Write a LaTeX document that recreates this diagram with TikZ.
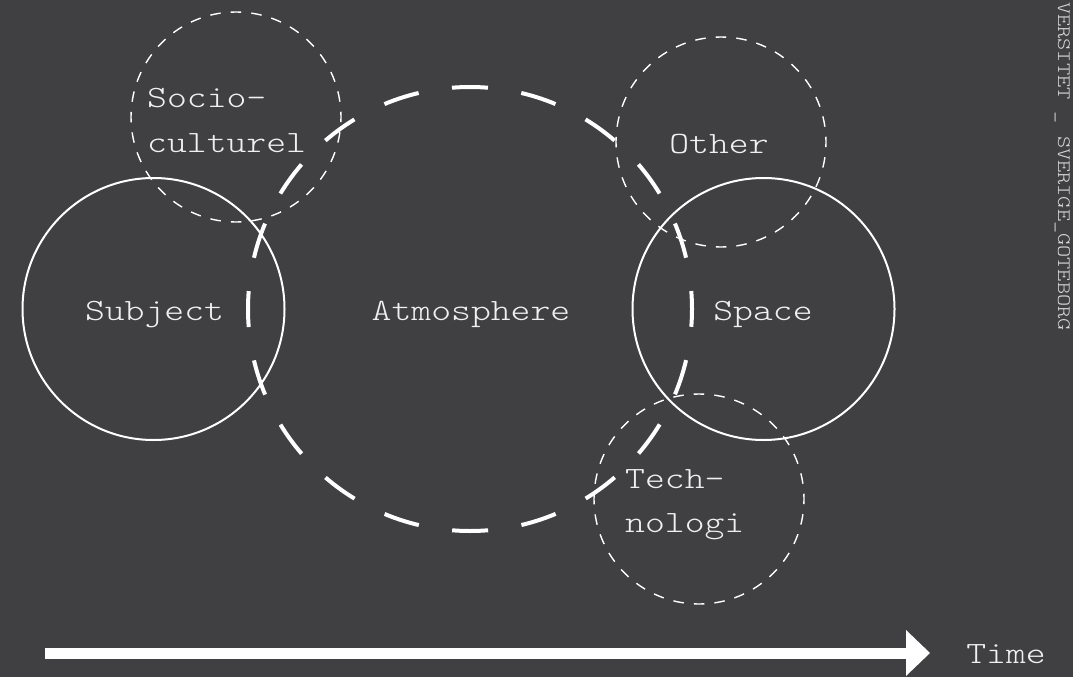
\documentclass[tikz,border=0pt]{standalone}
\usepackage{fontspec}
\newfontfamily\lbfont{Latin Modern Mono Light}[FakeStretch=1.22]
\definecolor{bg}{RGB}{64,64,66}
\definecolor{ink}{RGB}{240,240,240}
\definecolor{faint}{RGB}{215,215,215}
\begin{document}
\begin{tikzpicture}[x=1pt,y=-1pt,
  solidring/.style={circle, draw=white, line width=2pt, inner sep=0pt, minimum size=262pt},
  thinring/.style={circle, draw=white, line width=1.4pt, inner sep=0pt, minimum size=210pt,
    dash pattern=on 10.5pt off 10.12pt, dash phase=5.25pt},
  atmring/.style={circle, draw=white, line width=4pt, inner sep=0pt, minimum size=444pt,
    dash pattern=on 36pt off 33.76pt, dash phase=18pt},
  lbl/.style={text=ink, font=\lbfont\fontsize{31}{45}\selectfont, inner sep=0pt},
  timeline/.style={draw=white, line width=11pt},
]
\fill[bg] (0,0) rectangle (1073,677);
\useasboundingbox (0,0) rectangle (1073,677);

% rings
\node[atmring] (atm) at (470,309) {};
\node[solidring] (subj) at (153.5,309) {};
\node[solidring] (space) at (763.5,309) {};
\node[thinring] (socio) at (236,117) {};
\node[thinring] (other) at (721,142) {};
\node[thinring] (tech) at (699,499) {};

% labels
\node[lbl, anchor=base] (subjlbl) at (154.5,320) {Subject};
\node[lbl, anchor=base] (atmlbl) at (471,320) {Atmosphere};
\node[lbl, anchor=base] (spacelbl) at (763,320) {Space};
\node[lbl, anchor=base] (otherlbl) at (719,153) {Other};
\node[lbl, anchor=base west] (sociolbla) at (147,107) {Socio-};
\node[lbl, anchor=base west] (sociolblb) at (147,152) {culturel};
\node[lbl, anchor=base west] (techlbla) at (625,488) {Tech-};
\node[lbl, anchor=base west] (techlblb) at (625,532) {nologi};

% time arrow
\coordinate (tstart) at (45,653);
\coordinate (tbase) at (906,653);
\coordinate (ttip) at (930,653);
\coordinate (ttop) at (906,630);
\coordinate (tbot) at (906,676);
\draw[timeline] (tstart) -- (tbase);
\fill[white] (ttop) -- (ttip) -- (tbot) -- cycle;
\node[lbl, anchor=base] (timelbl) at (1006,663) {Time};

% side text
\node[rotate=-90, anchor=base west, inner sep=0pt, text=faint,
  font=\lbfont\fontsize{19}{24}\selectfont] (side) at (1058,2) {VERSITET \_ SVERIGE\_GOTEBORG};
\end{tikzpicture}
\end{document}
